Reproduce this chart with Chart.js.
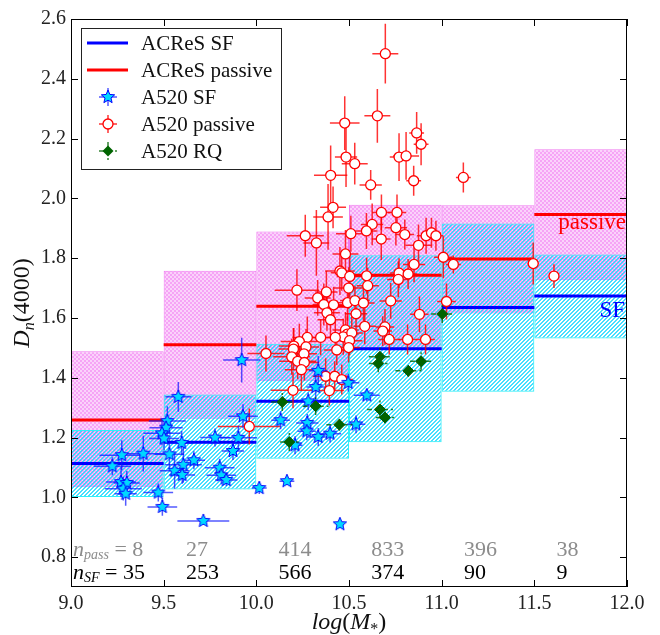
<!DOCTYPE html>
<html>
<head>
<meta charset="utf-8">
<script src="https://cdn.jsdelivr.net/npm/chart.js@4.4.1/dist/chart.umd.min.js"></script>
<style>
  html, body { margin: 0; padding: 0; background: #fff; }
  canvas { display: block; }
</style>
</head>
<body>
<canvas id="myChart" width="660" height="635"></canvas>
<script>
// ACReS bins in log(M*)
const binEdges = [9.0, 9.5, 10.0, 10.5, 11.0, 11.5, 12.0];
const acresSfMedian = [1.113, 1.184, 1.321, 1.497, 1.635, 1.673];
const acresPassMedian = [1.259, 1.510, 1.639, 1.743, 1.797, 1.946];
const acresSfLow = [1.001, 1.026, 1.129, 1.184, 1.353, 1.531];
const acresSfHigh = [1.225, 1.344, 1.514, 1.810, 1.916, 1.812];
const acresPassLow = [1.034, 1.263, 1.388, 1.498, 1.615, 1.726];
const acresPassHigh = [1.489, 1.758, 1.889, 1.979, 1.977, 2.164];
const nPass = [8, 27, 414, 833, 396, 38];
const nSF = [35, 253, 566, 374, 90, 9];

// A520 star-forming
const sfX = [9.921, 9.579, 9.520, 9.513, 9.491, 9.502, 9.928, 9.777, 9.903, 9.597, 9.874,
  9.531, 9.663, 9.606, 9.559, 9.600, 9.802, 9.811, 9.838, 10.016, 9.274, 9.390, 9.223,
  9.270, 9.301, 9.282, 9.295, 9.471, 9.493, 9.714, 10.334, 10.320, 10.496, 10.280, 10.596,
  10.131, 10.275, 10.272, 10.334, 10.398, 10.538, 10.209, 10.165, 10.451];
const sfY = [1.459, 1.336, 1.255, 1.233, 1.214, 1.197, 1.271, 1.200, 1.199, 1.182, 1.155,
  1.144, 1.124, 1.109, 1.089, 1.075, 1.099, 1.074, 1.058, 1.031, 1.141, 1.146, 1.104,
  1.051, 1.048, 1.029, 1.012, 1.016, 0.968, 0.921, 1.423, 1.369, 1.383, 1.321, 1.341,
  1.258, 1.249, 1.221, 1.202, 1.213, 1.244, 1.174, 1.054, 0.910];
const sfXErr = [0.10, 0.07, 0.10, 0.09, 0.10, 0.08, 0.08, 0.08, 0.10, 0.06, 0.06,
  0.08, 0.06, 0.10, 0.08, 0.07, 0.08, 0.08, 0.06, 0.04, 0.12, 0.12, 0.10,
  0.08, 0.07, 0.10, 0.06, 0.08, 0.08, 0.14, 0.05, 0.05, 0.06, 0.06, 0.07,
  0.05, 0.06, 0.05, 0.06, 0.06, 0.05, 0.04, 0.04, 0.01];
const sfYErr = [0.075, 0.05, 0.05, 0.04, 0.04, 0.04, 0.04, 0.03, 0.04, 0.04, 0.03,
  0.05, 0.03, 0.06, 0.06, 0.03, 0.03, 0.03, 0.02, 0.02, 0.05, 0.06, 0.03,
  0.05, 0.04, 0.04, 0.04, 0.03, 0.03, 0.01, 0.05, 0.05, 0.03, 0.03, 0.02,
  0.03, 0.03, 0.03, 0.03, 0.03, 0.03, 0.03, 0.01, 0.01];

// A520 passive
const passX = [10.696, 10.653, 10.477, 10.484, 10.531, 10.401, 10.770, 10.808, 10.865, 10.889,
  10.849, 10.617, 11.117, 10.414, 10.387, 10.675, 10.759, 10.625, 10.753, 10.594,
  10.510, 10.801, 10.674, 10.916, 10.945, 10.969, 10.875, 10.264, 10.324, 10.481,
  11.009, 11.063, 10.851, 10.451, 10.461, 10.504, 10.595, 10.770, 10.819, 10.766,
  10.219, 10.378, 10.498, 10.601, 10.331, 10.364, 10.417, 10.492, 10.532, 10.578,
  10.725, 11.026, 10.880, 10.381, 10.400, 10.538, 10.585, 10.481, 10.694, 10.682,
  10.717, 10.816, 10.913, 10.491, 10.469, 10.515, 10.503, 10.498, 10.426, 10.347,
  10.275, 10.232, 10.202, 10.268, 10.434, 10.052, 10.200, 10.191, 10.257, 10.223,
  10.259, 10.243, 10.374, 10.423, 10.461, 10.198, 10.394, 9.962, 11.494, 11.606];
const passY = [2.484, 2.276, 2.252, 2.138, 2.116, 2.077, 2.138, 2.142, 2.219, 2.181,
  2.059, 2.045, 2.070, 1.970, 1.938, 1.953, 1.953, 1.913, 1.902, 1.891,
  1.882, 1.879, 1.864, 1.875, 1.885, 1.875, 1.843, 1.875, 1.851, 1.814,
  1.803, 1.779, 1.779, 1.757, 1.751, 1.739, 1.741, 1.750, 1.747, 1.729,
  1.693, 1.687, 1.700, 1.708, 1.667, 1.645, 1.644, 1.651, 1.658, 1.650,
  1.657, 1.655, 1.612, 1.617, 1.594, 1.614, 1.572, 1.560, 1.570, 1.556,
  1.528, 1.528, 1.528, 1.546, 1.537, 1.550, 1.524, 1.501, 1.535, 1.535,
  1.535, 1.521, 1.506, 1.503, 1.493, 1.481, 1.496, 1.470, 1.480, 1.455,
  1.451, 1.427, 1.405, 1.405, 1.394, 1.358, 1.357, 1.237, 1.782, 1.740];
const passXErr = [0.07, 0.07, 0.08, 0.06, 0.07, 0.09, 0.05, 0.07, 0.04, 0.04,
  0.04, 0.06, 0.04, 0.07, 0.08, 0.05, 0.05, 0.06, 0.06, 0.06,
  0.08, 0.05, 0.05, 0.05, 0.05, 0.04, 0.07, 0.10, 0.07, 0.07,
  0.05, 0.04, 0.06, 0.08, 0.06, 0.07, 0.06, 0.05, 0.05, 0.06,
  0.12, 0.06, 0.08, 0.06, 0.07, 0.06, 0.06, 0.06, 0.08, 0.06,
  0.06, 0.05, 0.05, 0.07, 0.07, 0.06, 0.06, 0.07, 0.05, 0.05,
  0.06, 0.05, 0.05, 0.06, 0.06, 0.06, 0.07, 0.06, 0.07, 0.08,
  0.08, 0.10, 0.08, 0.07, 0.07, 0.10, 0.08, 0.10, 0.07, 0.10,
  0.08, 0.09, 0.07, 0.07, 0.06, 0.12, 0.08, 0.17, 0.03, 0.02];
const passYErr = [0.10, 0.09, 0.09, 0.10, 0.07, 0.10, 0.08, 0.08, 0.07, 0.07,
  0.05, 0.05, 0.05, 0.07, 0.11, 0.06, 0.06, 0.07, 0.06, 0.06,
  0.06, 0.05, 0.07, 0.06, 0.05, 0.05, 0.07, 0.07, 0.11, 0.08,
  0.07, 0.03, 0.06, 0.08, 0.06, 0.07, 0.06, 0.05, 0.05, 0.06,
  0.07, 0.07, 0.07, 0.06, 0.06, 0.07, 0.06, 0.06, 0.05, 0.06,
  0.06, 0.06, 0.06, 0.06, 0.06, 0.06, 0.06, 0.06, 0.06, 0.05,
  0.05, 0.05, 0.05, 0.06, 0.06, 0.06, 0.05, 0.05, 0.06, 0.06,
  0.07, 0.06, 0.06, 0.06, 0.05, 0.06, 0.07, 0.06, 0.06, 0.06,
  0.06, 0.07, 0.06, 0.05, 0.05, 0.06, 0.05, 0.06, 0.07, 0.04];

// A520 RQ
const rqX = [10.140, 10.320, 10.178, 10.448, 10.667, 10.658, 10.820, 10.889, 10.667, 10.694, 11.003];
const rqY = [1.319, 1.305, 1.185, 1.243, 1.470, 1.448, 1.423, 1.455, 1.294, 1.267, 1.613];
const rqXErr = [0.06, 0.07, 0.05, 0.07, 0.06, 0.05, 0.07, 0.06, 0.07, 0.05, 0.06];
const rqYErr = [0.03, 0.03, 0.03, 0.02, 0.03, 0.03, 0.02, 0.03, 0.03, 0.02, 0.03];

const xTicks = [9.0, 9.5, 10.0, 10.5, 11.0, 11.5, 12.0];
const yTicks = [0.8, 1.0, 1.2, 1.4, 1.6, 1.8, 2.0, 2.2, 2.4, 2.6];

const SERIF = "'Liberation Serif', 'DejaVu Serif', serif";

// hatch patterns
function pinkPattern() {
  const c = document.createElement("canvas");
  c.width = 4; c.height = 4;
  const g = c.getContext("2d");
  g.fillStyle = "#fbd2fb";
  g.fillRect(0, 0, 4, 4);
  g.fillStyle = "#f6a4f6";
  g.fillRect(0, 0, 2, 2);
  g.fillRect(2, 2, 2, 2);
  return g.createPattern(c, "repeat");
}
function cyanPattern() {
  const c = document.createElement("canvas");
  c.width = 4; c.height = 4;
  const g = c.getContext("2d");
  g.fillStyle = "rgba(0, 210, 255, 0.72)";
  for (let i = 0; i < 4; i++) {
    g.fillRect(i, 3 - i, 1, 1);
    g.fillRect(i, (4 - i) % 4, 1, 1);
  }
  return g.createPattern(c, "repeat");
}
function starMarker(size) {
  const c = document.createElement("canvas");
  c.width = size; c.height = size;
  const g = c.getContext("2d");
  const cx = size / 2, cy = size / 2, R = size / 2 - 1, r = R * 0.45;
  g.beginPath();
  for (let i = 0; i < 10; i++) {
    const a = -Math.PI / 2 + i * Math.PI / 5;
    const rr = i % 2 ? r : R;
    g.lineTo(cx + rr * Math.cos(a), cy + rr * Math.sin(a));
  }
  g.closePath();
  g.fillStyle = "#00d8ff";
  g.fill();
  g.strokeStyle = "#0000ff";
  g.lineWidth = 1;
  g.stroke();
  return c;
}

const toPoints = (xs, ys) => xs.map((x, i) => ({ x: x, y: ys[i] }));
const binCenters = binEdges.slice(0, -1).map((e, i) => (e + binEdges[i + 1]) / 2);
const ranges = (lo, hi) => binCenters.map((x, i) => ({ x: x, y: [lo[i], hi[i]] }));
function steps(vals) {
  const pts = [];
  vals.forEach((v, i) => {
    pts.push({ x: binEdges[i], y: v }, { x: binEdges[i + 1], y: v }, { x: binEdges[i + 1], y: null });
  });
  return pts;
}

const star = starMarker(16);

const errorBars = {
  id: "errorBars",
  beforeDatasetDraw(chart, args) {
    const ds = chart.data.datasets[args.index];
    if (!ds.xerr) return;
    const { ctx, chartArea, scales: { x, y } } = chart;
    ctx.save();
    ctx.beginPath();
    ctx.rect(chartArea.left, chartArea.top, chartArea.width, chartArea.height);
    ctx.clip();
    ctx.strokeStyle = ds.errColor;
    ctx.lineWidth = 1.5;
    ctx.setLineDash(ds.errDash || []);
    ds.data.forEach((p, i) => {
      const px = x.getPixelForValue(p.x), py = y.getPixelForValue(p.y);
      ctx.beginPath();
      ctx.moveTo(x.getPixelForValue(p.x - ds.xerr[i]), py);
      ctx.lineTo(x.getPixelForValue(p.x + ds.xerr[i]), py);
      ctx.moveTo(px, y.getPixelForValue(p.y - ds.yerr[i]));
      ctx.lineTo(px, y.getPixelForValue(p.y + ds.yerr[i]));
      ctx.stroke();
    });
    ctx.restore();
  }
};

function drawParts(ctx, parts, x, y, align) {
  let w = 0;
  parts.forEach(p => { ctx.font = p.font; w += ctx.measureText(p.t).width; });
  let cx = align === "center" ? x - w / 2 : x;
  parts.forEach(p => {
    ctx.font = p.font;
    ctx.fillText(p.t, cx, y + (p.dy || 0));
    cx += ctx.measureText(p.t).width;
  });
}

const decorations = {
  id: "decorations",
  afterDatasetsDraw(chart) {
    const { ctx, chartArea: a, scales: { x, y } } = chart;
    ctx.save();
    // frame + inward ticks on all sides
    ctx.strokeStyle = "#000";
    ctx.lineWidth = 1;
    ctx.strokeRect(a.left + 0.5, a.top + 0.5, a.width - 1, a.height - 1);
    ctx.beginPath();
    xTicks.forEach(v => {
      const px = Math.round(x.getPixelForValue(v)) + 0.5;
      ctx.moveTo(px, a.bottom); ctx.lineTo(px, a.bottom - 7);
      ctx.moveTo(px, a.top); ctx.lineTo(px, a.top + 7);
    });
    yTicks.forEach(v => {
      const py = Math.round(y.getPixelForValue(v)) + 0.5;
      ctx.moveTo(a.left, py); ctx.lineTo(a.left + 7, py);
      ctx.moveTo(a.right, py); ctx.lineTo(a.right - 7, py);
    });
    ctx.stroke();

    // labels on the last bin
    ctx.textAlign = "right";
    ctx.textBaseline = "alphabetic";
    ctx.font = "23px " + SERIF;
    ctx.fillStyle = "#ff0000";
    ctx.fillText("passive", a.right - 1, y.getPixelForValue(acresPassMedian[5]) + 14);
    ctx.fillStyle = "#0000ff";
    ctx.fillText("SF", a.right - 2, y.getPixelForValue(acresSfMedian[5]) + 21);

    // counts per bin
    ctx.textAlign = "left";
    ctx.textBaseline = "middle";
    const rowPass = y.getPixelForValue(0.822), rowSF = y.getPixelForValue(0.745);
    const big = "22px " + SERIF, it = "italic 22px " + SERIF, sub = "italic 14px " + SERIF;
    nPass.forEach((n, i) => {
      ctx.fillStyle = "#8c8c8c";
      if (i === 0) {
        drawParts(ctx, [{ t: "n", font: it }, { t: "pass", font: sub, dy: 5 }, { t: " = " + n, font: big }], a.left + 2, rowPass);
      } else {
        ctx.font = big;
        ctx.fillText(String(n), x.getPixelForValue(binEdges[i] + 0.12), rowPass);
      }
    });
    nSF.forEach((n, i) => {
      ctx.fillStyle = "#000";
      if (i === 0) {
        drawParts(ctx, [{ t: "n", font: it }, { t: "SF", font: sub, dy: 5 }, { t: " = " + n, font: big }], a.left + 2, rowSF);
      } else {
        ctx.font = big;
        ctx.fillText(String(n), x.getPixelForValue(binEdges[i] + 0.12), rowSF);
      }
    });

    // legend
    const lx = a.left + 10, ly = a.top + 9;
    ctx.fillStyle = "#fff";
    ctx.fillRect(lx, ly, 200, 141);
    ctx.strokeStyle = "#222";
    ctx.lineWidth = 1;
    ctx.strokeRect(lx + 0.5, ly + 0.5, 200, 141);
    const ds = chart.data.datasets;
    for (let i = 0; i < 5; i++) {
      const d = ds[i];
      const ry = ly + 15 + i * 27;
      const ix = lx + 27;
      ctx.save();
      if (d.type === "line") {
        ctx.strokeStyle = d.borderColor;
        ctx.lineWidth = 3;
        ctx.beginPath();
        ctx.moveTo(lx + 6, ry); ctx.lineTo(lx + 47, ry);
        ctx.stroke();
      } else {
        ctx.strokeStyle = d.errColor;
        ctx.lineWidth = 1.5;
        ctx.setLineDash(d.errDash || []);
        ctx.beginPath();
        ctx.moveTo(ix - 9, ry); ctx.lineTo(ix + 9, ry);
        ctx.moveTo(ix, ry - 9); ctx.lineTo(ix, ry + 9);
        ctx.stroke();
        ctx.setLineDash([]);
        if (d.pointStyle === star) {
          ctx.drawImage(star, ix - 8, ry - 8);
        } else if (d.pointStyle === "circle") {
          ctx.beginPath();
          ctx.arc(ix, ry, 5, 0, Math.PI * 2);
          ctx.fillStyle = "#fff"; ctx.fill();
          ctx.strokeStyle = d.borderColor; ctx.lineWidth = 1.3; ctx.stroke();
        } else {
          ctx.beginPath();
          ctx.moveTo(ix, ry - 5.5); ctx.lineTo(ix + 5.5, ry); ctx.lineTo(ix, ry + 5.5); ctx.lineTo(ix - 5.5, ry);
          ctx.closePath();
          ctx.fillStyle = d.backgroundColor; ctx.fill();
        }
      }
      ctx.restore();
      ctx.fillStyle = "#111";
      ctx.font = "21px " + SERIF;
      ctx.textAlign = "left";
      ctx.textBaseline = "middle";
      ctx.fillText(d.label, lx + 60, ry + 1);
    }

    // axis titles
    ctx.fillStyle = "#111";
    ctx.textBaseline = "alphabetic";
    const t24 = "24px " + SERIF, i24 = "italic 24px " + SERIF, s16 = "16px " + SERIF, si16 = "italic 16px " + SERIF;
    drawParts(ctx, [{ t: "log", font: i24 }, { t: "(", font: t24 }, { t: "M", font: i24 },
      { t: "*", font: s16, dy: 5 }, { t: ")", font: t24 }], (a.left + a.right) / 2, 629, "center");
    ctx.translate(29, (a.top + a.bottom) / 2);
    ctx.rotate(-Math.PI / 2);
    drawParts(ctx, [{ t: "D", font: i24 }, { t: "n", font: si16, dy: 5 }, { t: "(4000)", font: t24 }], 0, 0, "center");
    ctx.restore();
  }
};

const ctx = document.getElementById("myChart").getContext("2d");
const chart = new Chart(ctx, {
  type: "bar",
  data: {
    datasets: [
      {
        type: "line", label: "ACReS SF", data: steps(acresSfMedian),
        borderColor: "#0000ff", borderWidth: 3, pointRadius: 0, spanGaps: false, order: 5
      },
      {
        type: "line", label: "ACReS passive", data: steps(acresPassMedian),
        borderColor: "#ff0000", borderWidth: 3, pointRadius: 0, spanGaps: false, order: 5
      },
      {
        type: "scatter", label: "A520 SF", data: toPoints(sfX, sfY), xerr: sfXErr, yerr: sfYErr,
        errColor: "rgba(10, 20, 255, 0.7)", pointStyle: star, pointRadius: 8, order: 1
      },
      {
        type: "scatter", label: "A520 passive", data: toPoints(passX, passY), xerr: passXErr, yerr: passYErr,
        errColor: "rgba(255, 0, 0, 0.8)", pointStyle: "circle", pointRadius: 5,
        backgroundColor: "#ffffff", borderColor: "#ff0000", borderWidth: 1.3, order: 2
      },
      {
        type: "scatter", label: "A520 RQ", data: toPoints(rqX, rqY), xerr: rqXErr, yerr: rqYErr,
        errColor: "rgba(0, 100, 0, 0.8)", errDash: [5, 3], pointStyle: "rectRot", pointRadius: 5.5,
        backgroundColor: "#006400", borderColor: "#0a5a0a", borderWidth: 1, order: 0
      },
      {
        label: "ACReS passive range", data: ranges(acresPassLow, acresPassHigh),
        backgroundColor: pinkPattern(), borderColor: "#f07af0", borderWidth: 1, order: 11
      },
      {
        label: "ACReS SF range", data: ranges(acresSfLow, acresSfHigh),
        backgroundColor: cyanPattern(), borderColor: "#30f0f8", borderWidth: 1, order: 10
      }
    ]
  },
  options: {
    responsive: false,
    animation: false,
    layout: { padding: { left: 0, top: 19, right: 33, bottom: 0 } },
    datasets: {
      bar: {
        grouped: false, categoryPercentage: 1, barPercentage: 1,
        borderSkipped: false, inflateAmount: 0
      }
    },
    plugins: { legend: { display: false }, tooltip: { enabled: false } },
    scales: {
      x: {
        type: "linear", min: 9, max: 12, offset: false,
        grid: { display: false, offset: false, drawTicks: false },
        border: { display: false },
        afterBuildTicks: s => { s.ticks = xTicks.map(v => ({ value: v })); },
        afterFit: s => { s.height = 48; },
        ticks: {
          padding: 5, color: "#222", font: { family: SERIF, size: 20 },
          callback: v => Number(v).toFixed(1)
        }
      },
      y: {
        type: "linear", min: 0.7, max: 2.6,
        grid: { display: false, drawTicks: false },
        border: { display: false },
        afterBuildTicks: s => { s.ticks = yTicks.map(v => ({ value: v })); },
        afterFit: s => { s.width = 71; },
        ticks: {
          padding: 5, color: "#222", font: { family: SERIF, size: 20 },
          callback: v => Number(v).toFixed(1)
        }
      }
    }
  },
  plugins: [errorBars, decorations]
});
</script>
</body>
</html>
